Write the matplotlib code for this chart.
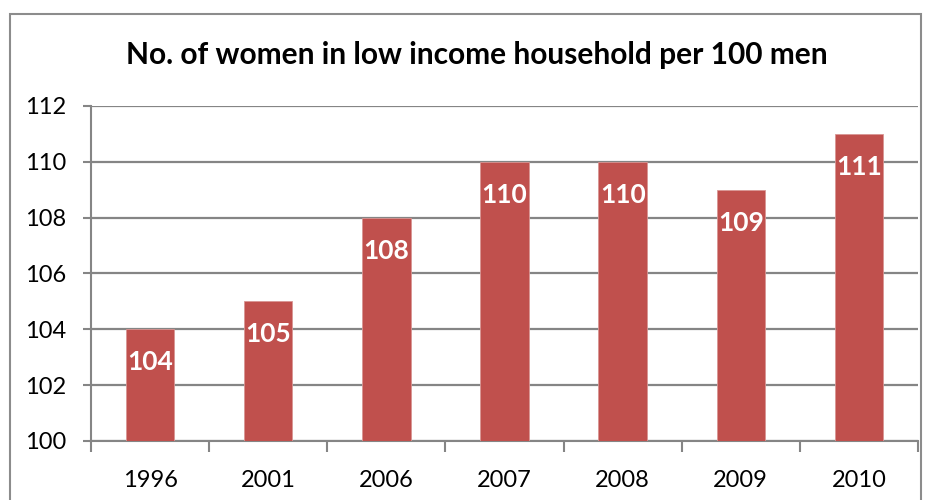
import matplotlib
matplotlib.use("Agg")
import matplotlib.pyplot as plt
from matplotlib.patches import Rectangle

years = ["1996", "2001", "2006", "2007", "2008", "2009", "2010"]
values = [104, 105, 108, 110, 110, 109, 111]
yticks = [100, 102, 104, 106, 108, 110, 112]
title = "No. of women in low income household per 100 men"

plt.rcParams['font.family'] = ['Lato', 'DejaVu Sans']

fig = plt.figure(figsize=(9.33, 5.0), dpi=100)
fig.patches.append(Rectangle((10/933, -0.1), (921-10)/933, 1.1 - 14/500,
                             transform=fig.transFigure, fill=False,
                             edgecolor='#8c8c8c', linewidth=1.5))

ax = fig.add_axes([91/933, 1-441/500, (918-91)/933, (441-106)/500])
x = list(range(len(years)))
ax.bar(x, [v - 100 for v in values], bottom=100, width=0.41,
       color='#C0504D', edgecolor='#D99694', linewidth=0.6, zorder=3)
ax.set_xlim(-0.5, len(years) - 0.5)
ax.set_ylim(100, 112)
ax.set_yticks(yticks)
ax.set_yticklabels([str(t) for t in yticks], fontsize=17)
ax.yaxis.grid(True, color='#858585', linewidth=1.6, zorder=0)
ax.set_axisbelow(True)

ax.set_xticks(x)
ax.set_xticklabels(years, fontsize=17)
ax.tick_params(axis='x', which='major', length=0, pad=21)
ax.set_xticks([i - 0.5 for i in range(len(years) + 1)], minor=True)
ax.tick_params(axis='x', which='minor', length=8, width=1.5, color='#858585')
ax.tick_params(axis='y', length=6, width=1.5, color='#858585', pad=12)

for s in ['top', 'right']:
    ax.spines[s].set_visible(False)
for s in ['left', 'bottom']:
    ax.spines[s].set_color('#858585')
    ax.spines[s].set_linewidth(1.5)

for xi, v in zip(x, values):
    ax.annotate(str(v), (xi, v), xytext=(0, -23.8), textcoords='offset points',
                ha='center', va='center', color='white', fontsize=19,
                fontweight='bold', zorder=4)

fig.text(477/933, 1 - 55/500, title, ha='center', va='center',
         fontsize=21.5, fontweight='bold')

fig.savefig('out.png', dpi=100)
